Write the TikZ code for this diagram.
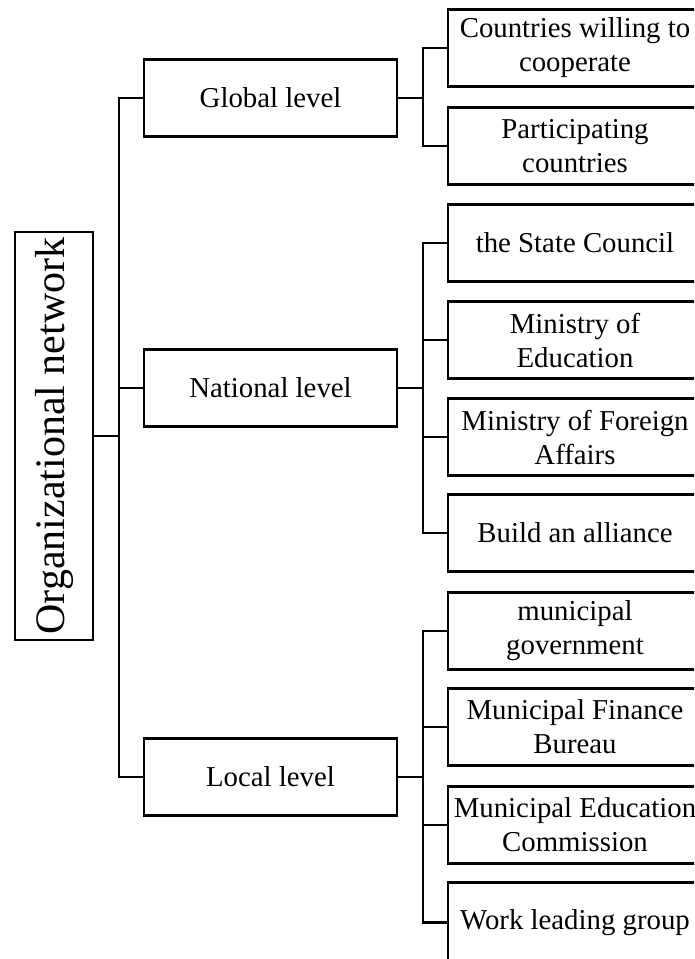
\documentclass[tikz,border=0pt]{standalone}
\usepackage{fontspec}
\setmainfont{Liberation Serif}
\begin{document}
\begin{tikzpicture}[x=1pt,y=-1pt,line width=2.4pt,
    levelbox/.style={draw,minimum width=253pt,minimum height=77pt,inner sep=2pt,align=center,font=\fontsize{28.8}{34}\selectfont},
    leafbox/.style={draw,minimum width=254pt,minimum height=77pt,inner sep=2pt,align=center,font=\fontsize{28.8}{34}\selectfont},
    rootbox/.style={draw,rotate=90,minimum width=408pt,minimum height=78pt,inner sep=2pt,font=\fontsize{42}{46}\selectfont}]
        \useasboundingbox (0,0) rectangle (694,959);
        \clip (0,0) rectangle (694,959);
        \node [rootbox] (root) at (54,436) {Organizational network};
        \node [levelbox] (glob) at (270.5,98) {Global level};
        \node [levelbox] (nat) at (270.5,388) {National level};
        \node [levelbox] (loc) at (270.5,777) {Local level};
        \node [leafbox] (g1) at (575,48) {Countries willing to\\cooperate};
        \node [leafbox] (g2) at (575,146) {Participating\\countries};
        \node [leafbox] (n1) at (575,243) {the State Council};
        \node [leafbox] (n2) at (575,340) {Ministry of\\Education};
        \node [leafbox] (n3) at (575,437) {Ministry of Foreign\\Affairs};
        \node [leafbox] (n4) at (575,533) {Build an alliance};
        \node [leafbox] (l1) at (575,631) {municipal\\government};
        \node [leafbox] (l2) at (575,727) {Municipal Finance\\Bureau};
        \node [leafbox] (l3) at (575,825) {Municipal Education\\Commission};
        \node [leafbox,minimum height=80pt] (l4) at (575,922.5) {Work leading group};
        \draw (root.south) -- ++(25,0) coordinate (rj);
        \draw (rj) |- (glob.west);
        \draw (rj) |- (loc.west);
        \draw (rj |- nat.west) -- (nat.west);
        \draw (glob.east) -- ++(25,0) coordinate (gj);
        \draw (gj) |- (g1.west);
        \draw (gj) |- (g2.west);
        \draw (nat.east) -- ++(25,0) coordinate (nj);
        \draw (nj) |- (n1.west);
        \draw (nj) |- (n4.west);
        \draw (nj |- n2.west) -- (n2.west);
        \draw (nj |- n3.west) -- (n3.west);
        \draw (loc.east) -- ++(25,0) coordinate (lj);
        \draw (lj) |- (l1.west);
        \draw (lj) |- (l4.west);
        \draw (lj |- l2.west) -- (l2.west);
        \draw (lj |- l3.west) -- (l3.west);
\end{tikzpicture}
\end{document}
